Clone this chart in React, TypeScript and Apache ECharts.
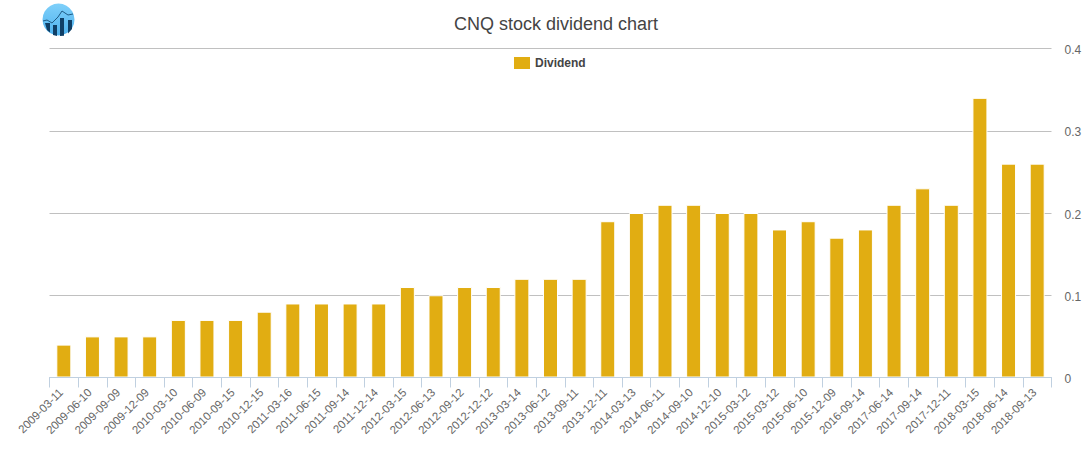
import React, { useEffect, useRef } from "react";
import * as echarts from "echarts";

const title = "CNQ stock dividend chart";
const seriesName = "Dividend";
const categories = ["2009-03-11","2009-06-10","2009-09-09","2009-12-09","2010-03-10","2010-06-09","2010-09-15","2010-12-15","2011-03-16","2011-06-15","2011-09-14","2011-12-14","2012-03-15","2012-06-13","2012-09-12","2012-12-12","2013-03-14","2013-06-12","2013-09-11","2013-12-11","2014-03-13","2014-06-11","2014-09-10","2014-12-10","2015-03-12","2015-03-12","2015-06-10","2015-12-09","2016-09-14","2017-06-14","2017-09-14","2017-12-11","2018-03-15","2018-06-14","2018-09-13"];
const dividends = [0.04,0.05,0.05,0.05,0.07,0.07,0.07,0.08,0.09,0.09,0.09,0.09,0.11,0.1,0.11,0.11,0.12,0.12,0.12,0.19,0.2,0.21,0.21,0.2,0.2,0.18,0.19,0.17,0.18,0.21,0.23,0.21,0.34,0.26,0.26];

const FONT = "'Liberation Sans', Arial, sans-serif";

export default function App() {
  const ref = useRef<HTMLDivElement>(null);
  useEffect(() => {
    const chart = echarts.init(ref.current!, undefined, { renderer: "svg" });
    chart.setOption({
      animation: false,
      backgroundColor: "#fff",
      title: {
        text: title,
        left: 454,
        top: 15,
        padding: 0,
        textStyle: { fontFamily: FONT, fontSize: 18, fontWeight: "normal", color: "#444444" },
      },
      legend: {
        data: [seriesName],
        top: 57,
        left: 514,
        padding: 0,
        itemWidth: 16,
        itemHeight: 12,
        itemGap: 5,
        icon: "rect",
        itemStyle: { borderWidth: 0 },
        textStyle: { fontFamily: FONT, fontSize: 12, fontWeight: "bold", color: "#444444", padding: [2, 0, 0, 0] },
      },
      grid: { left: 49.5, right: 39.5, top: 48.5, bottom: 72.5, containLabel: false },
      xAxis: {
        type: "category",
        data: categories,
        boundaryGap: true,
        z: 5,
        axisLine: { lineStyle: { color: "#C0D0E0", width: 1 } },
        axisTick: { show: true, alignWithLabel: false, length: 10, lineStyle: { color: "#C0D0E0" } },
        axisLabel: {
          interval: 0,
          rotate: 45,
          fontFamily: FONT,
          fontSize: 11.5,
          color: "#666666",
          margin: 10,
          padding: [0, 4, 0, 0],
        },
      },
      yAxis: {
        type: "value",
        position: "right",
        min: 0,
        max: 0.4,
        interval: 0.1,
        axisLine: { show: false },
        axisTick: { show: false },
        splitLine: { lineStyle: { color: "#C0C0C0", width: 1 } },
        axisLabel: {
          formatter: "{a|{value}}",
          margin: 13,
          rich: { a: { fontFamily: FONT, fontSize: 12, color: "#666666", padding: [3, 0, 0, 0] } },
        },
      },
      series: [
        {
          name: seriesName,
          type: "bar",
          data: dividends,
          barWidth: 15,
          itemStyle: { color: "#E1AD12", borderColor: "#ffffff", borderWidth: 1 },
        },
      ],
      graphic: [
        {
          type: "group",
          x: 0,
          y: 0,
          silent: true,
          children: [
            {
              type: "circle",
              shape: { cx: 58.5, cy: 19.5, r: 16 },
              style: {
                fill: new echarts.graphic.LinearGradient(0, 0, 0, 1, [
                  { offset: 0, color: "#7FD0FA" },
                  { offset: 1, color: "#4FB2EE" },
                ]),
              },
            },
            { type: "polygon", shape: { points: [[45, 23], [50, 23], [50, 32.5], [47, 30]] }, style: { fill: "#0F3F66" } },
            { type: "polygon", shape: { points: [[53, 25], [57, 25], [57, 36], [53, 35]] }, style: { fill: "#0F3F66" } },
            { type: "polygon", shape: { points: [[60, 18], [64, 18], [64, 35.8], [60, 36]] }, style: { fill: "#0F3F66" } },
            { type: "polygon", shape: { points: [[68, 20], [72, 20], [72, 29], [68, 33.5]] }, style: { fill: "#0F3F66" } },
            {
              type: "polyline",
              shape: { points: [[43, 21], [47, 20], [52, 23], [58, 17], [62, 11], [68, 15], [73, 14]] },
              style: { stroke: "#1F5C86", lineWidth: 1, fill: "none" },
            },
          ],
        },
      ],
    });
    return () => chart.dispose();
  }, []);
  return <div ref={ref} style={{ position: "absolute", left: 0, top: 0, width: 1091, height: 450 }} />;
}
